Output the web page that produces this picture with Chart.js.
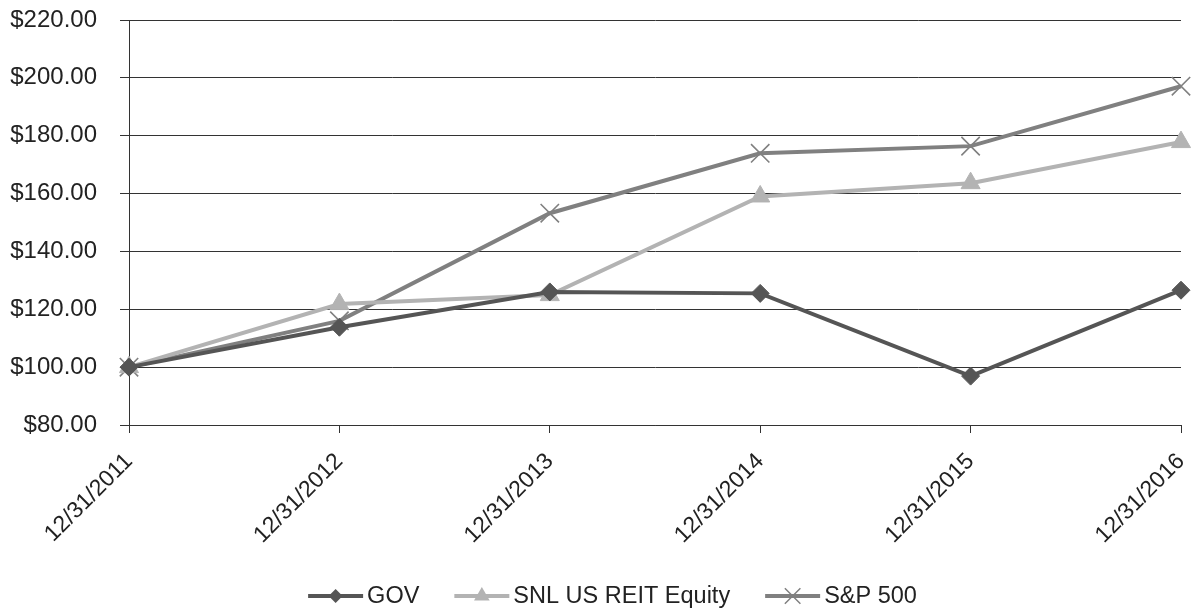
<!DOCTYPE html>
<html>
<head>
<meta charset="utf-8">
<script src="https://cdn.jsdelivr.net/npm/chart.js@4/dist/chart.umd.min.js"></script>
<style>
html,body{margin:0;padding:0;background:#fff;}
#wrap{width:1197px;height:609px;position:relative;}
</style>
</head>
<body>
<div id="wrap"><canvas id="c" width="1197" height="609"></canvas></div>
<script>
const categories = ["12/31/2011","12/31/2012","12/31/2013","12/31/2014","12/31/2015","12/31/2016"];
const govValues = [100.00, 113.8, 126.0, 125.5, 96.9, 126.6];
const reitValues = [100.00, 121.8, 124.9, 159.0, 163.6, 177.8];
const spValues = [100.00, 116.0, 153.2, 173.9, 176.4, 197.1];
const yTicks = [80, 100, 120, 140, 160, 180, 200, 220];
const seriesNames = ["GOV", "SNL US REIT Equity", "S&P 500"];

const FONT = "'Liberation Sans', Arial, Helvetica, sans-serif";
const colors = ["#555555", "#b3b3b3", "#808080"];
const styles = ["rectRot", "triangle", "crossRot"];
const radii = [9, 11, 13];

function drawMarker(ctx, style, x, y, r, color) {
  ctx.save();
  ctx.fillStyle = color;
  ctx.strokeStyle = color;
  ctx.beginPath();
  if (style === "rectRot") {
    ctx.moveTo(x, y - r); ctx.lineTo(x + r, y); ctx.lineTo(x, y + r); ctx.lineTo(x - r, y); ctx.closePath(); ctx.fill();
  } else if (style === "triangle") {
    ctx.moveTo(x, y - r); ctx.lineTo(x + r * 0.87, y + r * 0.5); ctx.lineTo(x - r * 0.87, y + r * 0.5); ctx.closePath(); ctx.fill();
  } else {
    const d = r * 0.707;
    ctx.lineWidth = 1.5;
    ctx.moveTo(x - d, y - d); ctx.lineTo(x + d, y + d); ctx.moveTo(x + d, y - d); ctx.lineTo(x - d, y + d); ctx.stroke();
  }
  ctx.restore();
}

// Legend drawn on the canvas: line sample with marker, then label text
const customLegend = {
  id: "customLegend",
  afterDraw(chart) {
    const ctx = chart.ctx;
    const lineW = 55, gap = 4, itemGap = 35, cy = 596, centerX = 612.5;
    ctx.save();
    ctx.font = "23.5px " + FONT;
    const widths = seriesNames.map(t => ctx.measureText(t).width);
    const total = widths.reduce((a, w) => a + lineW + gap + w, 0) + itemGap * (seriesNames.length - 1);
    let x = centerX - total / 2;
    seriesNames.forEach((name, i) => {
      ctx.strokeStyle = colors[i];
      ctx.lineWidth = 4;
      ctx.beginPath();
      ctx.moveTo(x, cy); ctx.lineTo(x + lineW, cy); ctx.stroke();
      drawMarker(ctx, styles[i], x + lineW / 2, cy, radii[i] - 2, colors[i]);
      ctx.fillStyle = "#222";
      ctx.textAlign = "left";
      ctx.textBaseline = "middle";
      ctx.fillText(name, x + lineW + gap, cy + 1);
      x += lineW + gap + widths[i] + itemGap;
    });
    ctx.restore();
  }
};

const mk = (label, data, i) => ({
  label, data,
  borderColor: colors[i],
  backgroundColor: colors[i],
  borderWidth: 4,
  pointStyle: styles[i],
  pointRadius: radii[i],
  pointBorderWidth: i === 2 ? 1.6 : 1,
  pointBackgroundColor: colors[i],
  pointBorderColor: colors[i],
  tension: 0
});

new Chart(document.getElementById("c"), {
  type: "line",
  data: {
    labels: categories,
    datasets: [
      mk(seriesNames[0], govValues, 0),
      mk(seriesNames[1], reitValues, 1),
      mk(seriesNames[2], spValues, 2)
    ]
  },
  options: {
    responsive: false,
    animation: false,
    devicePixelRatio: 1,
    layout: { padding: { top: 20, right: 16, left: 0, bottom: 64 } },
    plugins: {
      tooltip: { enabled: false },
      legend: { display: false }
    },
    scales: {
      x: {
        offset: false,
        afterFit(scale) {
          scale.height = 120;
          scale.paddingLeft = 0; scale.paddingRight = 0;
          scale.paddingTop = 0; scale.paddingBottom = 0;
        },
        grid: { display: true, drawOnChartArea: false, drawTicks: true, tickLength: 8, color: "#333", lineWidth: 1 },
        border: { display: true, color: "#333", width: 1 },
        ticks: {
          color: "#222",
          font: { family: FONT, size: 23 },
          maxRotation: 45, minRotation: 45,
          padding: 15,
          autoSkip: false
        }
      },
      y: {
        min: yTicks[0],
        max: yTicks[yTicks.length - 1],
        afterBuildTicks(scale) { scale.ticks = yTicks.map(v => ({ value: v })); },
        afterFit(scale) {
          scale.width = 129;
          scale.paddingTop = 0; scale.paddingBottom = 0;
          scale.paddingLeft = 0; scale.paddingRight = 0;
        },
        grid: { display: true, drawOnChartArea: true, drawTicks: true, tickLength: 9, color: "#333", lineWidth: 1 },
        border: { display: true, color: "#333", width: 1 },
        ticks: {
          color: "#222",
          font: { family: FONT, size: 24 },
          padding: 23,
          callback: v => "$" + Number(v).toFixed(2)
        }
      }
    }
  },
  plugins: [customLegend]
});
</script>
</body>
</html>
